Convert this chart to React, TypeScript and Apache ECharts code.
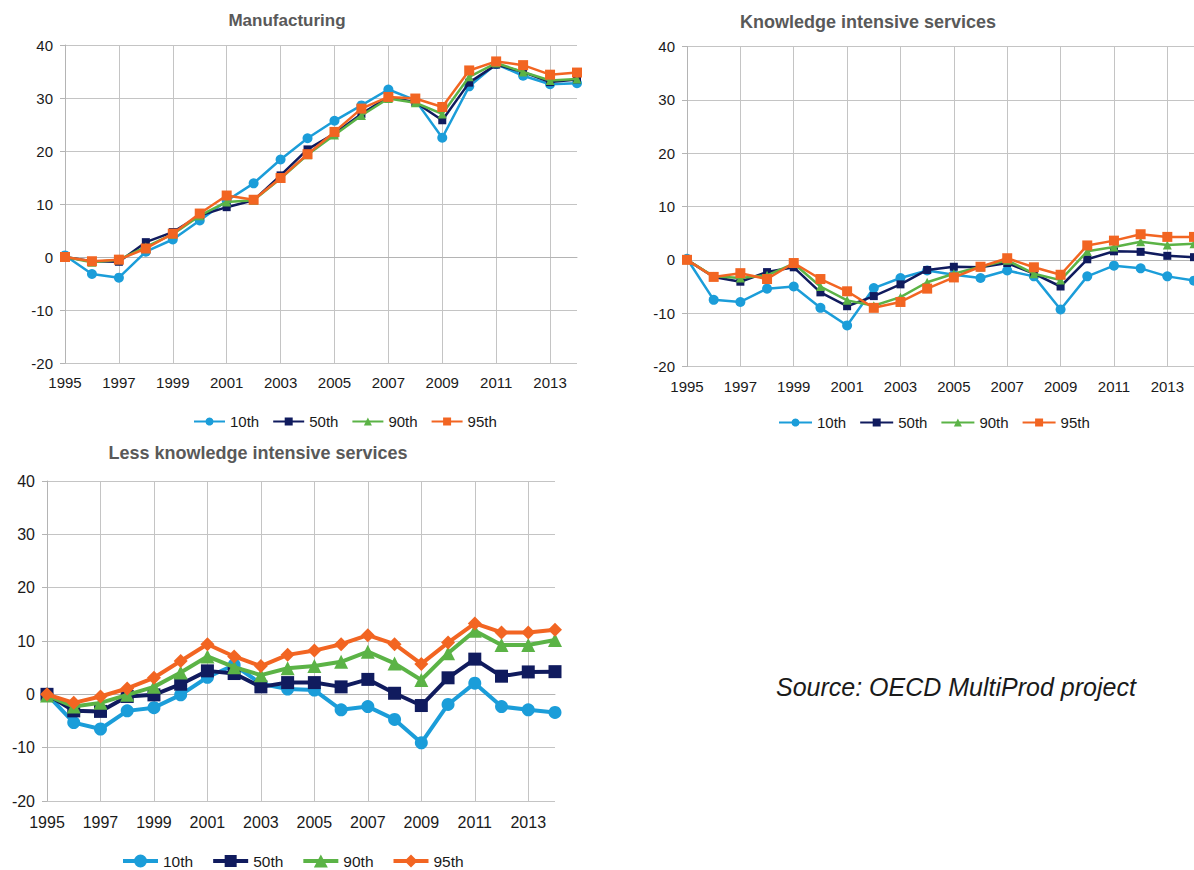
import React, { useEffect, useRef } from "react";
import * as echarts from "echarts";

const years = ["1995","1996","1997","1998","1999","2000","2001","2002","2003","2004","2005","2006","2007","2008","2009","2010","2011","2012","2013","2014"];
const seriesNames = ["10th", "50th", "90th", "95th"];
const colors = ["#1b9dd9", "#101b5e", "#5bb346", "#f26522"];

// Manufacturing
const manu10 = [0.3, -3.2, -3.9, 1.0, 3.3, 6.9, 10.6, 13.9, 18.4, 22.4, 25.7, 28.6, 31.6, 29.6, 22.5, 32.2, 36.4, 34.2, 32.6, 32.8];
const manu50 = [0, -0.8, -0.9, 2.8, 4.7, 7.8, 9.4, 10.7, 15.4, 20.3, 23.3, 27.0, 30.2, 29.2, 25.8, 32.9, 36.3, 34.9, 33.0, 33.5];
const manu90 = [0, -1.0, -0.5, 1.9, 4.3, 7.8, 10.4, 10.7, 14.8, 19.3, 23.0, 26.7, 29.9, 29.1, 27.0, 34.0, 36.6, 34.9, 33.3, 33.6];
const manu95 = [0, -0.8, -0.5, 1.6, 4.4, 8.2, 11.6, 10.8, 14.9, 19.4, 23.6, 28.0, 30.2, 29.9, 28.3, 35.2, 36.9, 36.2, 34.4, 34.8];

// Knowledge intensive services
const kis10 = [0.2, -7.5, -7.9, -5.4, -5.0, -9.0, -12.3, -5.3, -3.4, -2.0, -2.8, -3.4, -2.0, -3.1, -9.3, -3.1, -1.1, -1.6, -3.1, -3.9];
const kis50 = [0, -3.2, -4.1, -2.3, -1.4, -6.1, -8.7, -6.8, -4.6, -1.9, -1.3, -1.4, -0.6, -2.6, -5.0, 0.1, 1.6, 1.5, 0.75, 0.5];
const kis90 = [0, -3.1, -3.4, -2.9, -0.7, -5.0, -7.6, -8.6, -7.0, -4.2, -2.6, -1.3, -0.1, -2.6, -3.8, 1.6, 2.4, 3.4, 2.8, 3.0];
const kis95 = [0, -3.2, -2.5, -3.6, -0.6, -3.6, -5.9, -9.0, -7.9, -5.4, -3.3, -1.3, 0.3, -1.4, -2.8, 2.7, 3.6, 4.8, 4.3, 4.3];

// Less knowledge intensive services
const lkis10 = [0, -5.3, -6.5, -3.1, -2.5, -0.1, 3.2, 5.5, 2.0, 1.0, 0.8, -2.9, -2.3, -4.7, -9.1, -1.9, 2.1, -2.3, -2.9, -3.4];
const lkis50 = [0, -3.1, -3.2, -0.4, -0.1, 1.9, 4.4, 3.9, 1.4, 2.2, 2.2, 1.4, 2.8, 0.2, -2.1, 3.1, 6.6, 3.4, 4.2, 4.25];
const lkis90 = [-0.2, -2.3, -1.6, -0.1, 1.4, 4.1, 7.1, 5.1, 3.6, 4.9, 5.3, 6.1, 8.0, 5.8, 2.7, 7.7, 11.9, 9.25, 9.25, 10.2];
const lkis95 = [0, -1.6, -0.4, 1.1, 3.1, 6.25, 9.4, 7.1, 5.3, 7.4, 8.2, 9.4, 11.1, 9.4, 5.7, 9.7, 13.3, 11.6, 11.6, 12.1];

const yTicks = { min: -20, max: 40, interval: 10 };

const titles = ["Manufacturing", "Knowledge intensive services", "Less knowledge intensive services"];
const sourceText = "Source: OECD MultiProd project";

const FONT = "'Liberation Sans', Arial, Helvetica, sans-serif";
const GRID_COLOR = "#c4c4c4";
const AXIS_COLOR = "#b4b4b4";

// legend icons (line + marker) for the third panel, 35 x 13 box
const BAR = "M0,4.5 L35,4.5 L35,8.5 L0,8.5 Z ";
const bigLegendIcons = [
  "path://" + BAR + "M11,6.5 A6.5,6.5 0 1,1 24,6.5 A6.5,6.5 0 1,1 11,6.5 Z",
  "path://" + BAR + "M11.5,0.5 L23.5,0.5 L23.5,12.5 L11.5,12.5 Z",
  "path://" + BAR + "M17.5,0 L24.5,13 L10.5,13 Z",
  "path://" + BAR + "M17.5,0 L24,6.5 L17.5,13 L11,6.5 Z",
];

export default function App() {
  const ref = useRef<HTMLDivElement>(null);
  useEffect(() => {
    if (!ref.current) return;
    const chart = echarts.init(ref.current, null, { renderer: "svg" });
    const grids = [
      { left: 65, top: 45, width: 512, height: 318 },
      { left: 687, top: 46.5, width: 507, height: 320 },
      { left: 47, top: 481, width: 508, height: 320 },
    ];
    const labelFont = [15, 15, 16];
    const xMargin = [12, 12, 13];
    const panelData = [
      [manu10, manu50, manu90, manu95],
      [kis10, kis50, kis90, kis95],
      [lkis10, lkis50, lkis90, lkis95],
    ];
    const xAxis = grids.map((_, i) => ({
      type: "category",
      gridIndex: i,
      data: years,
      boundaryGap: false,
      axisLine: { show: true, lineStyle: { color: AXIS_COLOR, width: 1 } },
      axisTick: { show: false },
      axisLabel: { interval: 1, color: "#1a1a1a", fontSize: labelFont[i], fontFamily: FONT, margin: xMargin[i] },
      splitLine: { show: true, interval: 1, lineStyle: { color: GRID_COLOR, width: 1 } },
    }));
    const yAxis = grids.map((_, i) => ({
      type: "value",
      gridIndex: i,
      min: yTicks.min,
      max: yTicks.max,
      interval: yTicks.interval,
      axisLine: { show: true, lineStyle: { color: AXIS_COLOR, width: 1 } },
      axisTick: { show: true, length: 5, lineStyle: { color: AXIS_COLOR } },
      axisLabel: { color: "#1a1a1a", fontSize: labelFont[i], fontFamily: FONT, margin: 12 },
      splitLine: { show: true, lineStyle: { color: GRID_COLOR, width: 1 } },
    }));
    const symbolsSmall = ["circle", "rect", "triangle", "rect"];
    const symbolsBig = ["circle", "rect", "triangle", "diamond"];
    const sizesSmall = [10, 8, 9, 10];
    const sizesBig = [13, 13, 14, 14];
    const series: any[] = [];
    panelData.forEach((group, p) => {
      group.forEach((vals, s) => {
        const big = p === 2;
        series.push({
          type: "line",
          name: seriesNames[s],
          xAxisIndex: p,
          yAxisIndex: p,
          data: vals,
          symbol: big ? symbolsBig[s] : symbolsSmall[s],
          symbolSize: big ? sizesBig[s] : sizesSmall[s],
          showSymbol: true,
          lineStyle: { color: colors[s], width: big ? 4 : 2.5 },
          itemStyle: { color: colors[s] },
          emphasis: { disabled: true },
          z: 2 + s,
        });
      });
    });
    const legendCommon = {
      orient: "horizontal",
      padding: 0,
      selectedMode: false,
    };
    const option: any = {
      animation: false,
      color: colors,
      grid: grids,
      xAxis,
      yAxis,
      series,
      legend: [
        { ...legendCommon, data: seriesNames, left: 193, top: 414, itemWidth: 31, itemHeight: 10, itemGap: 13, textStyle: { color: "#1a1a1a", fontFamily: FONT, fontSize: 15 } },
        { ...legendCommon, data: seriesNames, left: 778, top: 415, itemWidth: 33, itemHeight: 10, itemGap: 13, textStyle: { color: "#1a1a1a", fontFamily: FONT, fontSize: 15 } },
        {
          ...legendCommon,
          data: seriesNames.map((n, i) => ({ name: n, icon: bigLegendIcons[i], itemStyle: { color: colors[i] } })),
          left: 123, top: 853, itemWidth: 35, itemHeight: 13, itemGap: 20,
          textStyle: { color: "#1a1a1a", fontFamily: FONT, fontSize: 15.5 },
        },
      ],
      graphic: [
        { type: "text", x: 287, y: 20, style: { text: titles[0], fill: "#595959", font: `bold 17px ${FONT}`, textAlign: "center", textVerticalAlign: "middle" } },
        { type: "text", x: 868, y: 22, style: { text: titles[1], fill: "#595959", font: `bold 18px ${FONT}`, textAlign: "center", textVerticalAlign: "middle" } },
        { type: "text", x: 258, y: 453, style: { text: titles[2], fill: "#595959", font: `bold 18px ${FONT}`, textAlign: "center", textVerticalAlign: "middle" } },
        { type: "text", x: 776, y: 687, style: { text: sourceText, fill: "#1a1a1a", font: `italic 25px ${FONT}`, textAlign: "left", textVerticalAlign: "middle" } },
      ],
    };
    chart.setOption(option);
    return () => chart.dispose();
  }, []);
  return (
    <div
      ref={ref}
      style={{ position: "fixed", left: 0, top: 0, width: 1194, height: 870, background: "#fff" }}
    />
  );
}
